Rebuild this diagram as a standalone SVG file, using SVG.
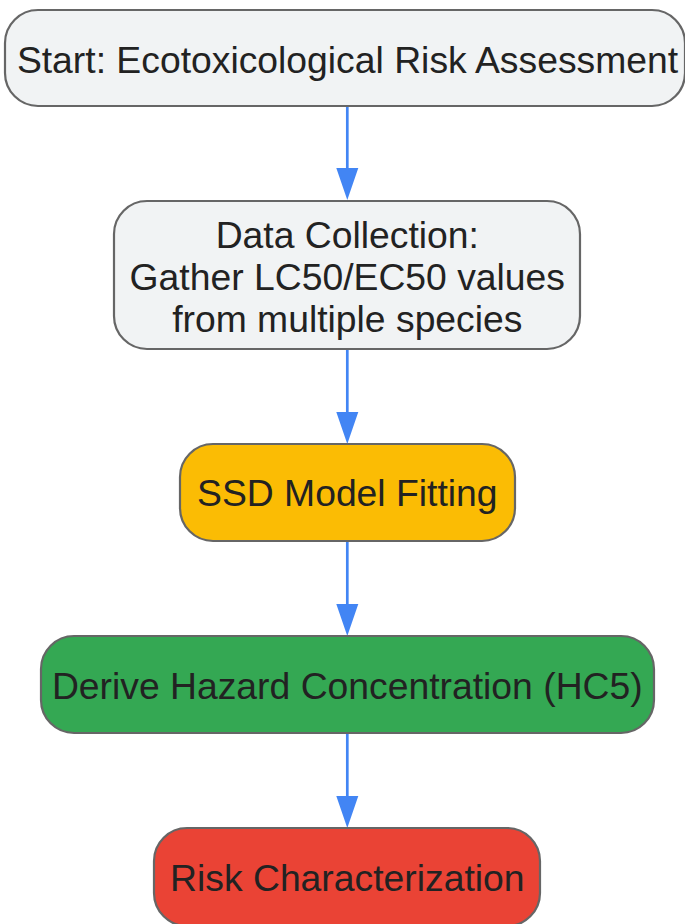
<svg xmlns="http://www.w3.org/2000/svg" width="685" height="924" viewBox="0 0 685 924">
<defs>
<style>
.node rect{stroke:#666666;stroke-width:2.2}
.grey rect{fill:#F1F3F4}
.yellow rect{fill:#FBBC04}
.green rect{fill:#34A853}
.red rect{fill:#EA4335}
.node text{font-family:"Liberation Sans",Arial,sans-serif;font-size:37.3px;fill:#222222;text-anchor:middle}
.edge{stroke:#4285F4;stroke-width:2.7;fill:none}
.head{fill:#4285F4}
</style>
</defs>
<rect width="685" height="924" fill="#ffffff"/>
<g id="connectors">
<line class="edge" x1="347.3" y1="106" x2="347.3" y2="170"/>
<polygon class="head" points="336.3,168 358.3,168 347.3,200"/>
<line class="edge" x1="347.3" y1="349" x2="347.3" y2="414"/>
<polygon class="head" points="336.3,412 358.3,412 347.3,444"/>
<line class="edge" x1="347.3" y1="541" x2="347.3" y2="606"/>
<polygon class="head" points="336.3,604 358.3,604 347.3,636"/>
<line class="edge" x1="347.3" y1="733" x2="347.3" y2="798"/>
<polygon class="head" points="336.3,796 358.3,796 347.3,828"/>
</g>
<g id="start" class="node grey">
<rect x="5" y="10" width="680" height="96" rx="33" ry="33"/>
<text x="347.5" y="73">Start: Ecotoxicological Risk Assessment</text>
</g>
<g id="data" class="node grey">
<rect x="114" y="201" width="466" height="148" rx="33" ry="33"/>
<text x="347.3" y="248">Data Collection:</text>
<text x="347.3" y="290">Gather LC50/EC50 values</text>
<text x="347.3" y="332">from multiple species</text>
</g>
<g id="ssd" class="node yellow">
<rect x="180" y="444" width="335" height="97" rx="33" ry="33"/>
<text x="347.3" y="506">SSD Model Fitting</text>
</g>
<g id="hc5" class="node green">
<rect x="41" y="636" width="613" height="97" rx="33" ry="33"/>
<text x="347.3" y="699">Derive Hazard Concentration (HC5)</text>
</g>
<g id="risk" class="node red">
<rect x="154" y="828" width="386" height="98" rx="33" ry="33"/>
<text x="347.3" y="891">Risk Characterization</text>
</g>
</svg>
